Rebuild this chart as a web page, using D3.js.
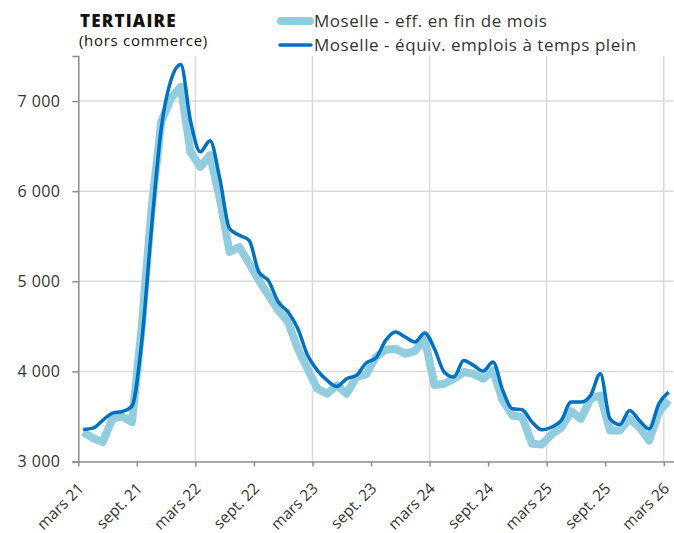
<!DOCTYPE html>
<html>
<head>
<meta charset="utf-8">
<script src="https://cdn.jsdelivr.net/npm/d3@7"></script>
<style>
  body { margin: 0; background: #fff; }
  text { font-family: "Open Sans", sans-serif; fill: #333; }
</style>
</head>
<body>
<svg id="chart" width="674" height="533"></svg>
<script>
// monthly values, mars 21 -> mars 26
var effFinMois = [3326, 3259, 3215, 3474, 3500, 3437, 4500, 5800, 6770, 7030,
  7160, 6437, 6270, 6400, 5918, 5326, 5381, 5200, 5011, 4844,
  4678, 4548, 4252, 4030, 3807, 3752, 3844, 3752, 3937, 3967,
  4159, 4241, 4252, 4196, 4226, 4363, 3850, 3863, 3919, 3993,
  3974, 3919, 4011, 3678, 3511, 3493, 3196, 3189, 3300, 3374,
  3559, 3474, 3696, 3733, 3344, 3344, 3474, 3381, 3233, 3548, 3680];
var etp = [3356, 3370, 3456, 3537, 3555, 3615, 4330, 5585, 6696, 7233,
  7407, 6780, 6437, 6560, 6141, 5585, 5511, 5456, 5104, 5004,
  4770, 4659, 4474, 4178, 4011, 3900, 3833, 3919, 3956, 4093,
  4148, 4344, 4437, 4381, 4326, 4426, 4252, 3993, 3937, 4122,
  4067, 4004, 4104, 3789, 3585, 3574, 3437, 3352, 3380, 3456,
  3659, 3659, 3733, 3974, 3474, 3411, 3567, 3456, 3363, 3641, 3770];
var tickLabels = ["mars 21", "sept. 21", "mars 22", "sept. 22", "mars 23", "sept. 23",
  "mars 24", "sept. 24", "mars 25", "sept. 25", "mars 26"];
var yTicks = [3000, 4000, 5000, 6000, 7000];
var seriesNames = ["Moselle - eff. en fin de mois", "Moselle - équiv. emplois à temps plein"];

var lightColor = "#92cddf";
var darkColor = "#0070c0";
var gridColor = "#dadada";
var axisColor = "#8c8c8c";

var svg = d3.select("#chart");
var x = d3.scaleLinear().domain([0, effFinMois.length]).range([78.3, 673.5]);
var y = d3.scaleLinear().domain([3000, 7500]).range([461.5, 56]);
var fr = d3.formatLocale({decimal: ",", thousands: " ", grouping: [3], currency: ["", " €"]});

// grid
svg.append("g").selectAll("line").data(yTicks.slice(1)).enter().append("line")
  .attr("x1", x(0)).attr("x2", x.range()[1])
  .attr("y1", function(d) { return y(d); }).attr("y2", function(d) { return y(d); })
  .attr("stroke", gridColor).attr("stroke-width", 1.5);
svg.append("g").selectAll("line").data([12, 24, 36, 48, 60]).enter().append("line")
  .attr("x1", function(d) { return x(d); }).attr("x2", function(d) { return x(d); })
  .attr("y1", y(3000)).attr("y2", 56)
  .attr("stroke", gridColor).attr("stroke-width", 1.5);

// axes
var yAxis = svg.append("g").attr("transform", "translate(" + x(0) + ",0)")
  .call(d3.axisLeft(y).tickValues(yTicks).tickSize(6).tickPadding(12).tickFormat(fr.format(",d")));
yAxis.select(".domain").attr("stroke", axisColor).attr("stroke-width", 1.5);
yAxis.selectAll(".tick line").attr("stroke", axisColor).attr("stroke-width", 1.5);
yAxis.selectAll("text").attr("font-size", 16).attr("fill", "#333")
  .attr("letter-spacing", 0.4).style("font-family", "'Open Sans', sans-serif");

var xAxis = svg.append("g").attr("transform", "translate(0," + y(3000) + ")")
  .call(d3.axisBottom(x).tickValues(d3.range(0, 61, 6)).tickSize(5).tickSizeOuter(0)
    .tickFormat(function(d, i) { return tickLabels[i]; }));
xAxis.select(".domain").attr("stroke", axisColor).attr("stroke-width", 1.5);
xAxis.selectAll(".tick line").attr("stroke", axisColor).attr("stroke-width", 1.5);
xAxis.selectAll("text")
  .attr("font-size", 15.5).attr("fill", "#333").style("font-family", "'Open Sans', sans-serif")
  .attr("text-anchor", "end").attr("dy", null).attr("y", 0)
  .attr("transform", "translate(3,25) rotate(-45)")
  .attr("dominant-baseline", "middle");

// lines
var lineLin = d3.line()
  .x(function(d, i) { return x(i + 0.5); })
  .y(function(d) { return y(d); });
var lineSmooth = d3.line()
  .curve(d3.curveMonotoneX)
  .x(function(d, i) { return x(i + 0.5); })
  .y(function(d) { return y(d); });

svg.append("path").datum(effFinMois).attr("d", lineLin)
  .attr("fill", "none").attr("stroke", lightColor).attr("stroke-width", 8)
  .attr("stroke-linejoin", "round");
svg.append("path").datum(etp).attr("d", lineSmooth)
  .attr("fill", "none").attr("stroke", darkColor).attr("stroke-width", 3.5)
  .attr("stroke-linejoin", "round");

// title
svg.append("text").attr("x", 80).attr("y", 27).attr("font-size", 17).attr("font-weight", 800)
  .attr("letter-spacing", 1.2).style("fill", "#111").text("TERTIAIRE");
svg.append("text").attr("x", 79).attr("y", 46).attr("font-size", 15)
  .attr("letter-spacing", 0.7).style("fill", "#111").text("(hors commerce)");

// legend
var leg = svg.append("g");
leg.append("line").attr("x1", 281).attr("x2", 310).attr("y1", 21).attr("y2", 21)
  .attr("stroke", lightColor).attr("stroke-width", 8).attr("stroke-linecap", "round");
leg.append("line").attr("x1", 280).attr("x2", 311).attr("y1", 45).attr("y2", 45)
  .attr("stroke", darkColor).attr("stroke-width", 3.5).attr("stroke-linecap", "round");
leg.selectAll("text.lg").data(seriesNames).enter().append("text")
  .attr("class", "lg")
  .attr("x", 314).attr("y", function(d, i) { return 27 + i * 24; })
  .attr("font-size", 17).attr("letter-spacing", 0.55).style("fill", "#333")
  .text(function(d) { return d; });
</script>
</body>
</html>
